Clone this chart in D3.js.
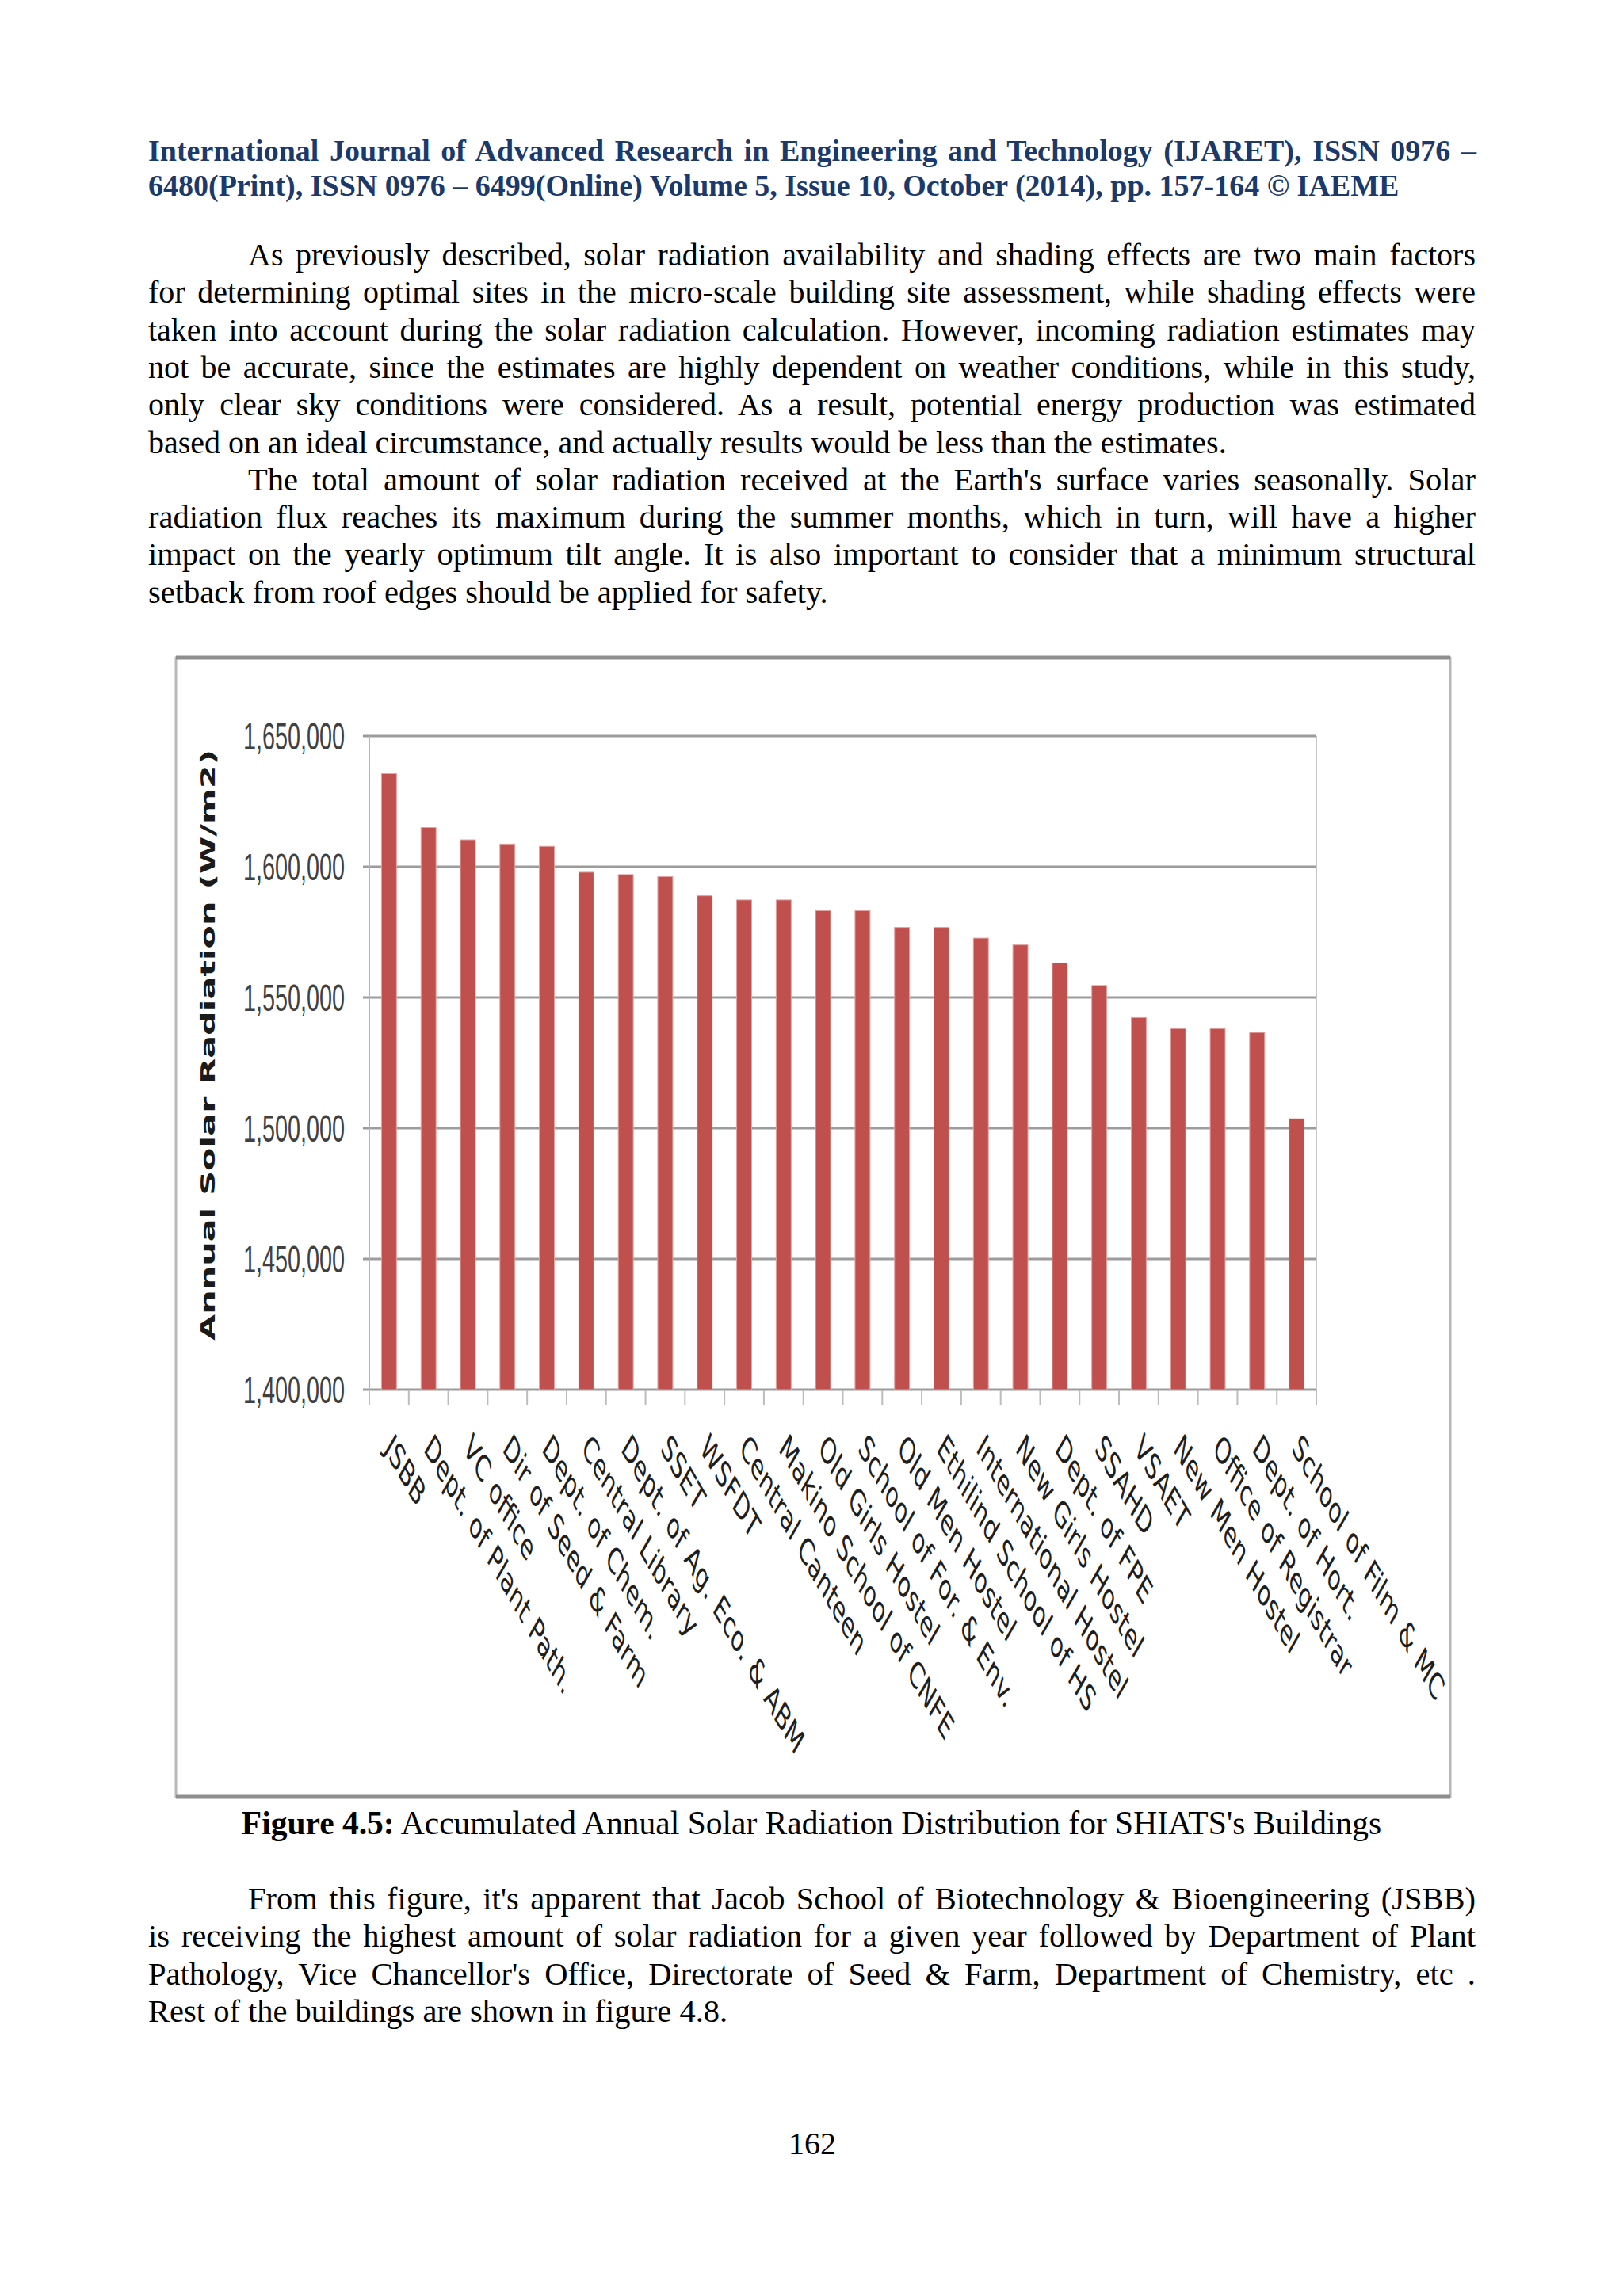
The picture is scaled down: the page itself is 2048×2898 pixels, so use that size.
<!DOCTYPE html>
<html>
<head>
<meta charset="utf-8">
<script src="https://cdn.jsdelivr.net/npm/d3@7"></script>
<style>
html,body{margin:0;padding:0;background:#fff;}
svg{display:block;}
</style>
</head>
<body>
<script>
// ---------------- DATA ----------------
const categories = [
  "JSBB", "Dept. of Plant Path.", "VC office", "Dir of Seed & Farm", "Dept. of Chem.",
  "Central Library", "Dept. of Ag. Eco. & ABM", "SSET", "WSFDT", "Central Canteen",
  "Makino School of CNFE", "Old Girls Hostel", "School of For. & Env.", "Old Men Hostel",
  "Ethilind School of HS", "International Hostel", "New Girls Hostel", "Dept. of FPE",
  "SSAHD", "VSAET", "New Men Hostel", "Office of Registrar", "Dept. of Hort.", "School of Film & MC"
];
const values = [
  1635600, 1615000, 1610300, 1608700, 1607800,
  1597900, 1597000, 1596200, 1588900, 1587300,
  1587300, 1583200, 1583200, 1576800, 1576800,
  1572700, 1570100, 1563200, 1554600, 1542300,
  1538100, 1538100, 1536600, 1503600
];
const yTicks = [1400000, 1450000, 1500000, 1550000, 1600000, 1650000];
const yDomain = [1400000, 1650000];
const yTitle = "Annual Solar Radiation (W/m2)";

const headerLines = [
  "International Journal of Advanced Research in Engineering and Technology (IJARET), ISSN 0976 –",
  "6480(Print), ISSN 0976 – 6499(Online) Volume 5, Issue 10, October (2014), pp. 157-164 © IAEME"
];
const para1 = [
  "As previously described, solar radiation availability and shading effects are two main factors",
  "for determining optimal sites in the micro-scale building site assessment, while shading effects were",
  "taken into account during the solar radiation calculation. However, incoming radiation estimates may",
  "not be accurate, since the estimates are highly dependent on weather conditions, while in this study,",
  "only clear sky conditions were considered. As a result, potential energy production was estimated",
  "based on an ideal circumstance, and actually results would be less than the estimates."
];
const para2 = [
  "The total amount of solar radiation received at the Earth's surface varies seasonally. Solar",
  "radiation flux reaches its maximum during the summer months, which in turn, will have a higher",
  "impact on the yearly optimum tilt angle. It is also important to consider that a minimum structural",
  "setback from roof edges should be applied for safety."
];
const captionBold = "Figure 4.5:";
const captionText = " Accumulated Annual Solar Radiation Distribution for SHIATS's Buildings";
const para3 = [
  "From this figure, it's apparent that Jacob School of Biotechnology & Bioengineering (JSBB)",
  "is receiving the highest amount of solar radiation for a given year followed by Department of Plant",
  "Pathology, Vice Chancellor's Office, Directorate of Seed & Farm, Department of Chemistry, etc .",
  "Rest of the buildings are shown in figure 4.8."
];
const pageNumber = "162";

// ---------------- PAGE ----------------
const W = 2048, H = 2898;
const svg = d3.select("body").append("svg").attr("width", W).attr("height", H);
svg.append("rect").attr("width", W).attr("height", H).attr("fill", "#ffffff");

const serif = "'Liberation Serif', 'Times New Roman', serif";
const left = 187, right = 1862, indent = 126;

function drawLine(g, str, x0, x1, y, justify, opts) {
  const t = g.append("text")
    .attr("x", x0).attr("y", y)
    .attr("font-family", serif)
    .attr("font-size", opts.size)
    .attr("font-weight", opts.weight || "normal")
    .attr("fill", opts.fill || "#000")
    .text(str);
  if (justify) {
    const natural = t.node().getComputedTextLength();
    const gaps = (str.match(/ /g) || []).length;
    if (gaps > 0) t.style("word-spacing", ((x1 - x0 - natural) / gaps) + "px");
  }
  return t;
}

function drawParagraph(g, lines, y0, step, size) {
  lines.forEach((s, i) => {
    const x0 = i === 0 ? left + indent : left;
    drawLine(g, s, x0, right, y0 + i * step, i < lines.length - 1, {size: size});
  });
}

const textG = svg.append("g");
// header
drawLine(textG, headerLines[0], left, right + 1, 203, true, {size: 38, weight: "bold", fill: "#1b3a6b"});
drawLine(textG, headerLines[1], left, right, 247, false, {size: 38, weight: "bold", fill: "#1b3a6b"});
// body
const lineStep = 47.3;
drawParagraph(textG, para1, 335, lineStep, 40);
drawParagraph(textG, para2, 335 + 6 * lineStep, lineStep, 40.5);
drawParagraph(textG, para3, 2410, lineStep, 40.5);

// caption
const cap = textG.append("text")
  .attr("x", 1024).attr("y", 2315)
  .attr("text-anchor", "middle")
  .attr("font-family", serif).attr("font-size", 41.5).attr("fill", "#000");
cap.append("tspan").attr("font-weight", "bold").text(captionBold);
cap.append("tspan").text(captionText);

// page number
textG.append("text")
  .attr("x", 1025).attr("y", 2719)
  .attr("text-anchor", "middle")
  .attr("font-family", serif).attr("font-size", 40).attr("fill", "#000")
  .text(pageNumber);

// ---------------- CHART ----------------
const chart = svg.append("g");
const frame = {x: 222, y: 830, w: 1608, h: 1438};
chart.append("rect")
  .attr("x", frame.x).attr("y", frame.y).attr("width", frame.w).attr("height", frame.h)
  .attr("fill", "#ffffff").attr("stroke", "#b8b8b8").attr("stroke-width", 3);
chart.append("line").attr("x1", frame.x).attr("x2", frame.x + frame.w)
  .attr("y1", frame.y).attr("y2", frame.y).attr("stroke", "#8e8e8e").attr("stroke-width", 5);
chart.append("line").attr("x1", frame.x).attr("x2", frame.x + frame.w)
  .attr("y1", frame.y + frame.h).attr("y2", frame.y + frame.h).attr("stroke", "#8e8e8e").attr("stroke-width", 5);

const plot = {left: 466, right: 1661, top: 929, bottom: 1754};
const k = 1.75; // vertical stretch of the embedded chart image

const x = d3.scaleBand().domain(categories).range([plot.left, plot.right])
  .paddingInner(0.62).paddingOuter(0.31);
const y = d3.scaleLinear().domain(yDomain).range([plot.bottom, plot.top]);

// gridlines (incl. small left tick)
chart.append("g").selectAll("line").data(yTicks).join("line")
  .attr("x1", plot.left - 8).attr("x2", plot.right)
  .attr("y1", d => y(d)).attr("y2", d => y(d))
  .attr("stroke", "#9c9c9c").attr("stroke-width", 3);

// plot side lines
chart.append("line").attr("x1", plot.left).attr("x2", plot.left)
  .attr("y1", plot.top).attr("y2", plot.bottom)
  .attr("stroke", "#b5b5b5").attr("stroke-width", 2);
chart.append("line").attr("x1", plot.right).attr("x2", plot.right)
  .attr("y1", plot.top).attr("y2", plot.bottom)
  .attr("stroke", "#c8c8c8").attr("stroke-width", 2);

// x ticks at band boundaries
const step = x.step();
const boundaries = d3.range(categories.length + 1).map(i => plot.left + i * step);
chart.append("g").selectAll("line").data(boundaries).join("line")
  .attr("x1", d => d).attr("x2", d => d)
  .attr("y1", plot.bottom).attr("y2", plot.bottom + 20)
  .attr("stroke", "#bcbcbc").attr("stroke-width", 2);

// bars
chart.append("g").selectAll("rect").data(values).join("rect")
  .attr("x", (d, i) => x(categories[i]))
  .attr("width", x.bandwidth())
  .attr("y", d => y(d))
  .attr("height", d => y(yDomain[0]) - y(d))
  .attr("fill", "#c0504d")
  .attr("stroke", "#e2a3a1").attr("stroke-width", 1);

// y tick labels (stretched vertically)
chart.append("g").selectAll("text").data(yTicks).join("text")
  .attr("transform", d => `translate(435,${y(d)}) scale(1,${k})`)
  .attr("text-anchor", "end")
  .attr("dy", "0.35em")
  .attr("font-family", "'Liberation Sans', Arial, sans-serif")
  .attr("font-size", 28)
  .attr("fill", "#404040")
  .attr("textLength", 128)
  .attr("lengthAdjust", "spacingAndGlyphs")
  .text(d => d3.format(",")(d));

// y title
chart.append("text")
  .attr("transform", `translate(262,1319) scale(1,${k}) rotate(-90)`)
  .attr("text-anchor", "middle")
  .attr("dy", "0.35em")
  .attr("font-family", "'DejaVu Sans', Verdana, sans-serif")
  .attr("font-weight", "bold")
  .attr("font-size", 24.5)
  .attr("fill", "#1a1a1a")
  .text(yTitle);

// x labels: 45 degrees, stretched vertically
chart.append("g").selectAll("text").data(categories).join("text")
  .attr("transform", d => `translate(${x(d) + x.bandwidth() / 2 - 7},1830) scale(1,${k}) rotate(45)`)
  .attr("text-anchor", "start")
  .attr("font-family", "'DejaVu Sans', Verdana, sans-serif")
  .attr("font-size", 26)
  .attr("fill", "#1e1e1e")
  .text(d => d);
</script>
</body>
</html>
